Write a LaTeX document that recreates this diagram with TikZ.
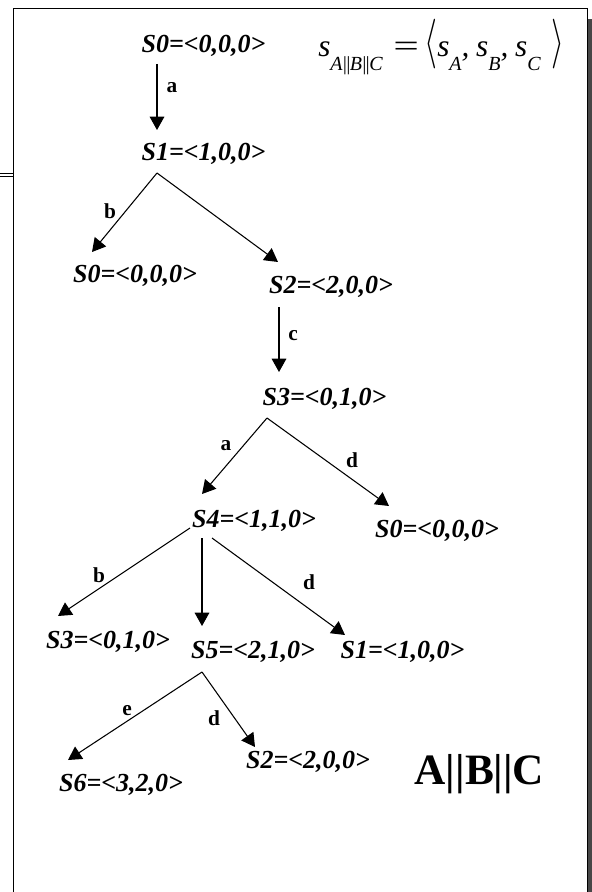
\documentclass[tikz,border=0pt]{standalone}
\usepackage{fontspec}
\setmainfont{Liberation Serif}
\usepackage{graphicx}
\usetikzlibrary{arrows.meta}
\newcommand{\mysubs}[1]{\raisebox{-9.75pt}{\fontsize{15}{18}\selectfont\itshape #1}}
\newcommand{\mybars}{\kern-0.6pt|\kern-1.6pt|\kern-0.6pt}
\begin{document}
\begin{tikzpicture}[x=0.75pt,y=-0.75pt,
  st/.style={font=\fontsize{19.5}{22}\selectfont\bfseries\itshape, inner sep=0pt, anchor=base},
  el/.style={font=\fontsize{16}{19}\selectfont\bfseries, inner sep=0pt, anchor=base},
  arr/.style={line width=0.8pt, -{Triangle[length=10pt,width=11pt]}},
  ln/.style={line width=0.8pt}]
\useasboundingbox (0,0) rectangle (592,892);
% frame with shadow
\fill[black!72] (588,19) rectangle (592,892);
\draw[ln] (13.5,892) -- (13.5,8.5) -- (587.5,8.5) -- (587.5,892);
\draw[line width=0.6pt] (0,173) -- (13.5,173) (0,176) -- (13.5,176);
% formula
\node[anchor=base west, inner sep=0pt] (formula) at (318,57) {\fontsize{23.5}{27}\selectfont\itshape s\mysubs{A\mybars B\mybars C}\hspace{8pt}{\upshape\scalebox{1.45}[1]{=}}\hspace{4pt}\scalebox{1}[1.5]{$\langle$}s\mysubs{A},\hspace{5pt}s\mysubs{B},\hspace{5pt}s\mysubs{C}\hspace{8pt}\scalebox{1}[1.5]{$\rangle$}};
% states
\node[st] (n0) at (203.5,53) {S0=<0,0,0>};
\node[st] (n1) at (203.5,160) {S1=<1,0,0>};
\node[st] (n2) at (135,282) {S0=<0,0,0>};
\node[st] (n3) at (331,293) {S2=<2,0,0>};
\node[st] (n4) at (324.5,405) {S3=<0,1,0>};
\node[st] (n5) at (254,527) {S4=<1,1,0>};
\node[st] (n6) at (437,537) {S0=<0,0,0>};
\node[st] (n7) at (108,648) {S3=<0,1,0>};
\node[st] (n8) at (253,658) {S5=<2,1,0>};
\node[st] (n9) at (402.5,658) {S1=<1,0,0>};
\node[st] (n10) at (121,791) {S6=<3,2,0>};
\node[st] (n11) at (308,768) {S2=<2,0,0>};
\node[font=\fontsize{32.5}{36}\selectfont\bfseries, inner sep=0pt, anchor=base] (abc) at (479.5,784) {A||B||C};
% connector end points
\coordinate (c1s) at (157,64);  \coordinate (c1e) at (157,130);
\coordinate (c2s) at (157,173); \coordinate (c2e) at (92,252); \coordinate (c3e) at (278,262);
\coordinate (c4s) at (279,307); \coordinate (c4e) at (279,372);
\coordinate (c5s) at (267,418); \coordinate (c5e) at (202,494); \coordinate (c6e) at (389,506);
\coordinate (c7s) at (190,528); \coordinate (c7e) at (58,616);
\coordinate (c8s) at (202,538); \coordinate (c8e) at (202,626);
\coordinate (c9s) at (212,538); \coordinate (c9e) at (345,635);
\coordinate (c10s) at (202,672); \coordinate (c10e) at (68,760); \coordinate (c11e) at (255,747);
% connectors
\draw[arr] (c1s) -- (c1e);
\draw[arr] (c2s) -- (c2e);
\draw[arr] (c2s) -- (c3e);
\draw[arr] (c4s) -- (c4e);
\draw[arr] (c5s) -- (c5e);
\draw[arr] (c5s) -- (c6e);
\draw[arr] (c7s) -- (c7e);
\draw[arr] (c8s) -- (c8e);
\draw[arr] (c9s) -- (c9e);
\draw[arr] (c10s) -- (c10e);
\draw[arr] (c10s) -- (c11e);
% edge labels
\node[el] (l1) at (172,93) {a};
\node[el] (l2) at (110,218) {b};
\node[el] (l3) at (293,340) {c};
\node[el] (l4) at (226,450) {a};
\node[el] (l5) at (352,467) {d};
\node[el] (l6) at (99,582) {b};
\node[el] (l7) at (309,589) {d};
\node[el] (l8) at (127,715) {e};
\node[el] (l9) at (214,725) {d};
\end{tikzpicture}
\end{document}
